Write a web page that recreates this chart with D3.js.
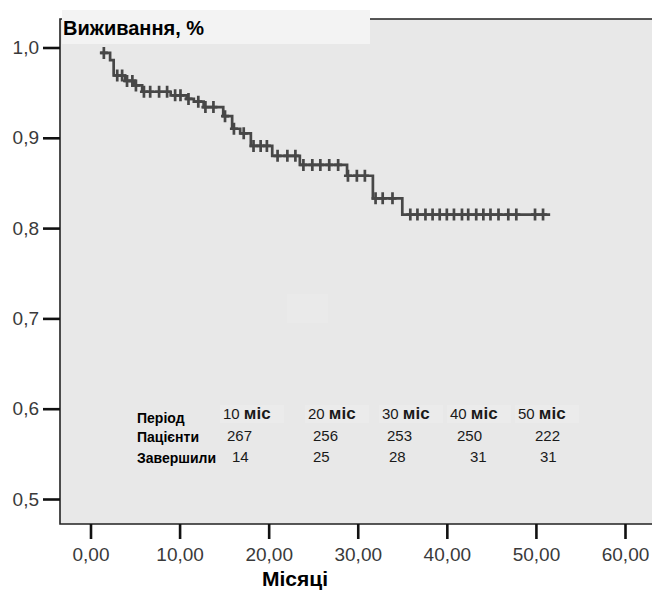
<!DOCTYPE html>
<html>
<head>
<meta charset="utf-8">
<title>Виживання</title>
<style type="text/css">
  body { margin: 0; background: #fff; }
  text { font-family: "Liberation Sans", Arial, sans-serif; }
</style>
</head>
<body>
<script src="https://d3js.org/d3.v7.min.js"></script>
<script type="text/javascript">
// Kaplan-Meier steps: time (months) where the level starts, survival from there on
const stepTimes = [1.1, 2.2, 2.6, 3.9, 4.9, 5.8, 9.0, 10.8, 11.6, 12.7, 14.9, 15.9, 16.8, 18.0, 20.4, 23.5, 28.8, 31.7, 35.0];
const stepSurv  = [0.994, 0.986, 0.969, 0.963, 0.958, 0.951, 0.947, 0.943, 0.940, 0.934, 0.924, 0.910, 0.905, 0.891, 0.880, 0.870, 0.858, 0.833, 0.815];
const lastTime = 51.6;
// censored observations (the "+" marks)
const censorTimes = [1.5, 3.0, 3.55, 4.1, 4.7, 5.1, 6.0, 6.7, 7.7, 8.6, 9.5, 10.1, 11.0, 12.1, 12.9, 13.8,
  15.1, 16.1, 17.2, 18.3, 19.1, 19.8, 21.0, 22.1, 23.0, 23.9, 24.9, 25.8, 26.8, 27.8, 28.9, 29.9, 30.8,
  32.0, 32.8, 33.9, 35.9, 36.7, 37.6, 38.4, 39.2, 40.0, 40.8, 41.7, 42.4, 43.3, 44.1, 44.9, 45.8, 46.9, 47.8, 49.9, 50.8];

const xTicks = [0, 10, 20, 30, 40, 50, 60];
const yTicks = [0.5, 0.6, 0.7, 0.8, 0.9, 1.0];

// table inside the plot
const rowLabels = ['Період', 'Пацієнти', 'Завершили'];
const periods   = ['10', '20', '30', '40', '50'];
const patients  = [267, 256, 253, 250, 222];
const completed = [14, 25, 28, 31, 31];

// layout
const w = 652, h = 590;
const frame = {left: 60, top: 19, right: 652, bottom: 524};
const headX = [223, 308, 382, 450, 518];
const patX  = [227, 313, 387, 457, 535];
const compX = [232, 313, 389, 470, 540];
const lineColor = '#474747';

const svg = d3.select('body').append('svg')
  .attr('width', w).attr('height', h);

const x = d3.scaleLinear().domain([0, 60]).range([90.5, 625]);
const y = d3.scaleLinear().domain([0.5, 1.0]).range([499, 47.5]);

// plot background
svg.append('rect')
  .attr('x', frame.left).attr('y', frame.top)
  .attr('width', frame.right - frame.left).attr('height', frame.bottom - frame.top)
  .attr('fill', '#e8e8e8');
svg.append('path')
  .attr('d', `M${frame.right},${frame.top}H${frame.left}V${frame.bottom}H${frame.right}`)
  .attr('fill', 'none').attr('stroke', '#222').attr('stroke-width', 1.6);

// faint artefact patch in the middle
svg.append('rect').attr('x', 287).attr('y', 294).attr('width', 41).attr('height', 29).attr('fill', '#eaeaea');

// axes
const yAxis = svg.append('g')
  .attr('transform', `translate(${frame.left},0)`)
  .call(d3.axisLeft(y).tickValues(yTicks).tickSize(17).tickPadding(4)
    .tickFormat(d => d.toFixed(1).replace('.', ',')));
const xAxis = svg.append('g')
  .attr('transform', `translate(0,${frame.bottom})`)
  .call(d3.axisBottom(x).tickValues(xTicks).tickSize(15).tickPadding(9)
    .tickFormat(d => d.toFixed(2).replace('.', ',')));
[yAxis, xAxis].forEach(a => {
  a.select('.domain').remove();
  a.selectAll('.tick line').attr('stroke', '#111').attr('stroke-width', 2.6);
  a.selectAll('.tick text').attr('fill', '#3a3a3a').style('font-size', '19px')
    .style('font-family', '"Liberation Sans", Arial, sans-serif');
});

// survival curve
const pts = stepTimes.map((t, i) => [t, stepSurv[i]]);
pts.push([lastTime, stepSurv[stepSurv.length - 1]]);
svg.append('path')
  .datum(pts)
  .attr('fill', 'none').attr('stroke', lineColor).attr('stroke-width', 2.7)
  .attr('d', d3.line().x(d => x(d[0])).y(d => y(d[1])).curve(d3.curveStepAfter));

function survAt(t) {
  let s = 1;
  stepTimes.forEach((st, i) => { if (t >= st) s = stepSurv[i]; });
  return s;
}
svg.append('g').selectAll('path')
  .data(censorTimes).enter().append('path')
  .attr('d', t => {
    const cx = x(t), cy = y(survAt(t));
    return `M${cx - 4},${cy}H${cx + 4}M${cx},${cy - 6}V${cy + 6}`;
  })
  .attr('stroke', lineColor).attr('stroke-width', 2.7).attr('fill', 'none');

// title box
svg.append('rect').attr('x', 62).attr('y', 10).attr('width', 308).attr('height', 34).attr('fill', '#f3f3f3');
svg.append('text').attr('x', 63).attr('y', 35)
  .style('font-weight', 'bold').style('font-size', '20px').attr('fill', '#000')
  .text('Виживання, %');

// x label
svg.append('text').attr('x', 295).attr('y', 586).attr('text-anchor', 'middle')
  .style('font-weight', 'bold').style('font-size', '21px').attr('fill', '#000')
  .text('Місяці');

// table
const tbl = svg.append('g');
tbl.selectAll('rect.hd').data(periods).enter().append('rect')
  .attr('x', (d, i) => headX[i] - 3).attr('y', 405)
  .attr('width', 64).attr('height', 18).attr('fill', '#ebebeb');
const rowY = [423, 442, 463];
tbl.selectAll('text.row').data(rowLabels).enter().append('text')
  .attr('x', 137).attr('y', (d, i) => rowY[i])
  .style('font-weight', 'bold').style('font-size', '14px').attr('fill', '#000')
  .text(d => d);
const hd = tbl.selectAll('text.hd').data(periods).enter().append('text')
  .attr('x', (d, i) => headX[i]).attr('y', 419).attr('fill', '#1a1a1a');
hd.append('tspan').style('font-size', '15px').text(d => d + ' ');
hd.append('tspan').style('font-size', '17px').style('font-weight', 'bold').text('міс');
tbl.selectAll('text.pat').data(patients).enter().append('text')
  .attr('x', (d, i) => patX[i]).attr('y', 441)
  .style('font-size', '15px').attr('fill', '#1a1a1a').text(d => d);
tbl.selectAll('text.comp').data(completed).enter().append('text')
  .attr('x', (d, i) => compX[i]).attr('y', 462)
  .style('font-size', '15px').attr('fill', '#1a1a1a').text(d => d);
</script>
</body>
</html>
